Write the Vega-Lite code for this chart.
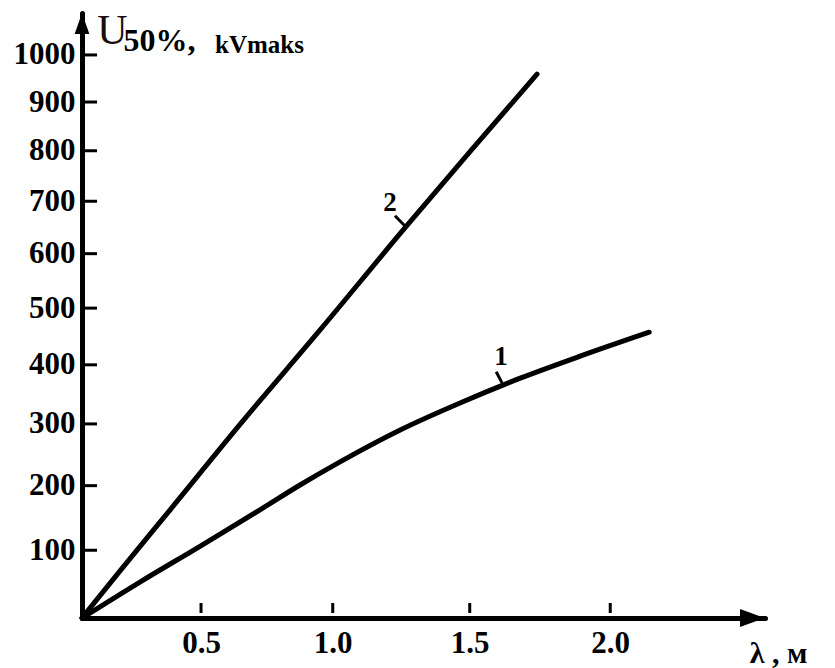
{
  "$schema": "https://vega.github.io/schema/vega-lite/v6.json",
  "autosize": "none",
  "padding": {"left": 82, "top": 13, "right": 70, "bottom": 50},
  "width": 683,
  "height": 605,
  "background": "white",
  "config": {"view": {"stroke": null}},
  "datasets": {
    "curves": [
      {"curve": "1", "lambda": 0, "U": 0},
      {"curve": "1", "lambda": 0.256, "U": 52.5},
      {"curve": "1", "lambda": 0.496, "U": 106},
      {"curve": "1", "lambda": 0.727, "U": 162},
      {"curve": "1", "lambda": 0.878, "U": 201},
      {"curve": "1", "lambda": 1.027, "U": 238},
      {"curve": "1", "lambda": 1.248, "U": 290},
      {"curve": "1", "lambda": 1.465, "U": 335},
      {"curve": "1", "lambda": 1.681, "U": 377},
      {"curve": "1", "lambda": 1.894, "U": 415},
      {"curve": "1", "lambda": 2.137, "U": 457},
      {"curve": "2", "lambda": 0, "U": 0},
      {"curve": "2", "lambda": 0.173, "U": 69},
      {"curve": "2", "lambda": 0.378, "U": 162},
      {"curve": "2", "lambda": 0.662, "U": 305},
      {"curve": "2", "lambda": 0.953, "U": 461},
      {"curve": "2", "lambda": 1.266, "U": 649},
      {"curve": "2", "lambda": 1.501, "U": 798},
      {"curve": "2", "lambda": 1.741, "U": 959}
    ],
    "notes": [
      {"label": "1", "tx": 1.612, "ty": 414, "x1": 1.595, "y1": 388, "x2": 1.616, "y2": 369},
      {"label": "2", "tx": 1.211, "ty": 697, "x1": 1.229, "y1": 672, "x2": 1.270, "y2": 650}
    ],
    "arrows": [
      {"dir": "up", "ax": 0, "ay": 1092},
      {"dir": "right", "ax": 2.54, "ay": 0}
    ],
    "yticks": [
      {"U": 100}, {"U": 200}, {"U": 300}, {"U": 400}, {"U": 500},
      {"U": 600}, {"U": 700}, {"U": 800}, {"U": 900}, {"U": 1000}
    ],
    "xticks": [
      {"lambda": 0.5}, {"lambda": 1.0}, {"lambda": 1.5}, {"lambda": 2.0}
    ]
  },
  "resolve": {"axis": {"x": "independent", "y": "independent"}},
  "layer": [
    {
      "data": {"name": "curves"},
      "mark": {"type": "line", "color": "black", "strokeWidth": 5, "strokeCap": "round", "strokeJoin": "round", "interpolate": "monotone"},
      "encoding": {
        "x": {
          "field": "lambda", "type": "quantitative",
          "scale": {"type": "pow", "exponent": 1.075, "domain": [0, 2.54], "nice": false, "zero": false},
          "axis": {
            "orient": "bottom", "values": [0.5, 1, 1.5, 2], "format": ".1f", "grid": false, "ticks": false,
            "domainColor": "black", "domainWidth": 5, "domainCap": "round",
            "labelFont": "Liberation Serif", "labelFontWeight": "bold", "labelFontSize": 31, "labelColor": "black",
            "labelPadding": 10, "labelBaseline": "top",
            "title": "λ , м", "titleFont": "Liberation Serif", "titleFontWeight": "bold", "titleFontSize": 30, "titleColor": "black",
            "titleAngle": 0, "titleX": 696, "titleY": 44, "titleAlign": "center", "titleBaseline": "alphabetic"
          }
        },
        "y": {
          "field": "U", "type": "quantitative",
          "scale": {"type": "symlog", "constant": 2000, "domain": [0, 1092], "nice": false, "zero": false},
          "axis": {
            "orient": "left", "values": [100, 200, 300, 400, 500, 600, 700, 800, 900, 1000], "format": "d", "grid": false, "ticks": false,
            "domainColor": "black", "domainWidth": 5, "domainCap": "round",
            "labelFont": "Liberation Serif", "labelFontWeight": "bold", "labelFontSize": 31, "labelColor": "black",
            "labelPadding": 7,
            "title": "U", "titleFont": "Liberation Serif", "titleFontWeight": "normal", "titleFontSize": 42, "titleColor": "#1a0d0d",
            "titleAngle": 0, "titleX": 30, "titleY": 30, "titleAlign": "center", "titleBaseline": "alphabetic"
          }
        },
        "detail": {"field": "curve"}
      }
    },
    {
      "data": {"name": "yticks"},
      "mark": {"type": "rule", "color": "black", "opacity": 1, "strokeWidth": 3},
      "encoding": {
        "y": {"field": "U", "type": "quantitative", "axis": null},
        "x": {"datum": 0, "type": "quantitative", "axis": null},
        "x2": {"datum": 0.073}
      }
    },
    {
      "data": {"name": "xticks"},
      "mark": {"type": "tick", "orient": "vertical", "color": "black", "opacity": 1, "size": 10, "thickness": 3, "yOffset": -10},
      "encoding": {
        "x": {"field": "lambda", "type": "quantitative", "axis": null},
        "y": {"datum": 0, "type": "quantitative", "axis": null}
      }
    },
    {
      "data": {"name": "arrows"},
      "mark": {"type": "point", "filled": true, "color": "black", "opacity": 1, "strokeWidth": 0},
      "encoding": {
        "x": {
          "field": "ax", "type": "quantitative",
          "axis": {
            "orient": "top", "domain": false, "ticks": false, "labels": false, "grid": false,
            "title": "50%,", "titleFont": "Liberation Serif", "titleFontWeight": "bold", "titleFontSize": 32, "titleColor": "black",
            "titleAngle": 0, "titleX": 77, "titleY": 37, "titleAlign": "center", "titleBaseline": "alphabetic"
          }
        },
        "y": {
          "field": "ay", "type": "quantitative",
          "axis": {
            "orient": "right", "domain": false, "ticks": false, "labels": false, "grid": false,
            "title": "kVmaks", "titleFont": "Liberation Serif", "titleFontWeight": "bold", "titleFontSize": 25, "titleColor": "black",
            "titleAngle": 0, "titleX": -506, "titleY": 39, "titleAlign": "center", "titleBaseline": "alphabetic"
          }
        },
        "shape": {
          "field": "dir", "type": "nominal",
          "scale": {"domain": ["up", "right"], "range": ["M0,0L0.7,2L-0.7,2Z", "M0,0L-2,-0.72L-2,0.72Z"]},
          "legend": null
        },
        "size": {
          "field": "dir", "type": "nominal",
          "scale": {"domain": ["up", "right"], "range": [441, 625]},
          "legend": null
        }
      }
    },
    {
      "data": {"name": "notes"},
      "mark": {"type": "rule", "color": "black", "strokeWidth": 3},
      "encoding": {
        "x": {"field": "x1", "type": "quantitative", "axis": null},
        "y": {"field": "y1", "type": "quantitative", "axis": null},
        "x2": {"field": "x2"},
        "y2": {"field": "y2"}
      }
    },
    {
      "data": {"name": "notes"},
      "mark": {"type": "text", "font": "Liberation Serif", "fontWeight": "bold", "fontSize": 27, "color": "black", "align": "center", "baseline": "middle"},
      "encoding": {
        "x": {"field": "tx", "type": "quantitative", "axis": null},
        "y": {"field": "ty", "type": "quantitative", "axis": null},
        "text": {"field": "label"}
      }
    }
  ]
}
